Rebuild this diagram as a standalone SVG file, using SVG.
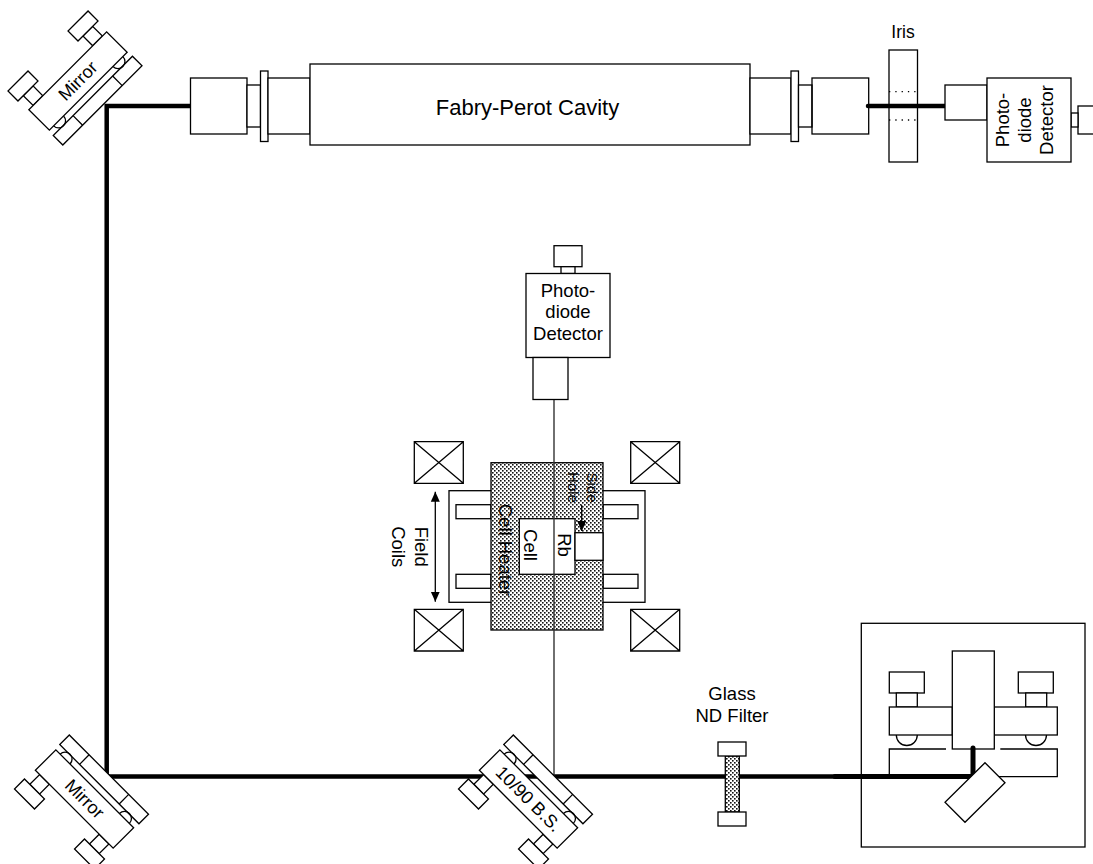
<svg xmlns="http://www.w3.org/2000/svg" width="1093" height="864" viewBox="0 0 1093 864">
<style>
.s{fill:#fff;stroke:#000;stroke-width:1.3}
.n{fill:none;stroke:#000;stroke-width:1.3}
.st{fill:url(#stipple);stroke:#000;stroke-width:1.3}
.beam{fill:none;stroke:#000;stroke-width:4.5;stroke-linecap:round;stroke-linejoin:miter}
.thin{fill:none;stroke:#333;stroke-width:1.4}
.arr{fill:none;stroke:#000;stroke-width:1.3}
.m{font-size:18px}
text{font-family:"Liberation Sans",Arial,sans-serif;font-size:18.5px;fill:#000;text-anchor:middle}
</style>
<defs>
<pattern id="stipple" width="4" height="4" patternUnits="userSpaceOnUse">
<rect width="4" height="4" fill="#fff"/>
<rect x="0" y="0" width="1.6" height="1.6" fill="#111"/>
<rect x="2" y="2" width="1.6" height="1.6" fill="#111"/>
</pattern>
<marker id="ah" markerUnits="userSpaceOnUse" markerWidth="10" markerHeight="10" refX="10" refY="5" orient="auto-start-reverse">
<path d="M0,0.5 L10,5 L0,9.5 Z" fill="#000"/>
</marker>
<g id="mount">
<rect class="s" x="-56" y="21" width="112" height="13.5"/>
<path class="n" d="M-28,21V34.5M28,21V34.5"/>
<path class="n" d="M-49,14.5A7,7 0 0 0 -35,14.5M35,14.5A7,7 0 0 0 49,14.5"/>
<rect class="s" x="-49" y="-28.3" width="13.7" height="13.8"/>
<rect class="s" x="35.3" y="-28.3" width="13.7" height="13.8"/>
<rect class="s" x="-56.6" y="-42.4" width="28.3" height="14.1"/>
<rect class="s" x="28.3" y="-42.4" width="28.3" height="14.1"/>
<rect class="s" x="-55" y="-14.5" width="110" height="29"/>
</g>
</defs>

<g id="laser">
<rect class="n" x="861.3" y="623.3" width="223.7" height="223.7"/>
<path class="n" d="M946,749H889.3V776.7H1057.3V749H1000.3"/>
<rect class="s" x="889.3" y="672" width="35" height="21"/>
<rect class="s" x="896.3" y="693" width="21" height="14"/>
<rect class="s" x="1018.3" y="672" width="35" height="21"/>
<rect class="s" x="1025.7" y="693" width="21" height="14"/>
<path class="n" d="M896.3,735A10.5,10.5 0 0 0 917.3,735M1025.5,735A10.5,10.5 0 0 0 1046.5,735"/>
<rect class="s" x="889.3" y="707" width="63" height="28"/>
<rect class="s" x="994.3" y="707" width="63" height="28"/>
<rect class="s" x="952.3" y="651" width="42" height="98"/>
</g>

<g id="iris">
<rect class="s" x="889" y="50" width="28.5" height="112"/>
<path class="n" d="M889,91.7H917.5M889,120H917.5" stroke-dasharray="1.3 5"/>
<text x="903" y="38" style="font-size:17.5px">Iris</text>
</g>

<g id="cell">
<path class="s" d="M414.3,441.7H463.3V483.3H414.3ZM414.3,441.7L463.3,483.3M463.3,441.7L414.3,483.3"/>
<path class="s" d="M630.7,441.7H679.7V483.3H630.7ZM630.7,441.7L679.7,483.3M679.7,441.7L630.7,483.3"/>
<path class="s" d="M414.3,609.3H463.3V651H414.3ZM414.3,609.3L463.3,651M463.3,609.3L414.3,651"/>
<path class="s" d="M630.7,609.3H679.7V651H630.7ZM630.7,609.3L679.7,651M679.7,609.3L630.7,651"/>
<rect class="s" x="449" y="490.7" width="196" height="111.6"/>
<rect class="s" x="456" y="504.7" width="35" height="14"/>
<rect class="s" x="456" y="574.3" width="35" height="14"/>
<rect class="s" x="603" y="504.7" width="35" height="14"/>
<rect class="s" x="603" y="574.3" width="35" height="14"/>
<rect class="st" x="491" y="462.7" width="112" height="167.3"/>
<rect class="s" x="519.3" y="518.7" width="55.7" height="55.6"/>
<rect class="s" x="575" y="532.7" width="28" height="27.6"/>
<text transform="translate(499,550) rotate(90)">Cell Heater</text>
<text transform="translate(523.5,545) rotate(90)">Cell</text>
<text transform="translate(558,545) rotate(90)">Rb</text>
<text transform="translate(586.7,487.5) rotate(90)" style="font-size:15px">Side</text>
<text transform="translate(567.7,487.5) rotate(90)" style="font-size:15px">Hole</text>
<text transform="translate(414.7,546.7) rotate(90)">Field</text>
<text transform="translate(392,546.7) rotate(90)">Coils</text>
<path class="arr" d="M435.3,491.7V601.7" marker-start="url(#ah)" marker-end="url(#ah)"/>
<path class="arr" d="M581.7,505V531" marker-end="url(#ah)"/>
</g>

<g id="connectors">
<path class="beam" d="M190,106H106.7V776.5H553"/>
<path class="beam" d="M553,776.5H835"/>
<path class="beam" d="M835,776.5H973V748" style="stroke-width:5"/>
<path class="beam" d="M868,106H946"/>
<path class="thin" d="M554,399.5V776"/>
</g>

<g id="cavity">
<rect class="s" x="190.5" y="78" width="56.5" height="56"/>
<rect class="s" x="247" y="85" width="13.5" height="42"/>
<rect class="s" x="260.5" y="71" width="7.5" height="70.5"/>
<rect class="s" x="268" y="78" width="42" height="56"/>
<rect class="s" x="310" y="64" width="440" height="81"/>
<rect class="s" x="750" y="78" width="41" height="56"/>
<rect class="s" x="791" y="71" width="7.5" height="70.5"/>
<rect class="s" x="798.5" y="85" width="13.5" height="42"/>
<rect class="n" x="812" y="78" width="56.7" height="56"/>
<text x="527.5" y="115" style="font-size:22px">Fabry-Perot Cavity</text>
</g>

<g id="detector-top">
<rect class="s" x="1078" y="106" width="28" height="28"/>
<rect class="s" x="1071" y="113" width="7" height="14"/>
<rect class="s" x="945" y="85" width="42" height="35"/>
<rect class="s" x="987" y="78" width="84" height="84"/>
<text transform="translate(1009,120) rotate(-90)">Photo-</text>
<text transform="translate(1031,120) rotate(-90)">diode</text>
<text transform="translate(1053,120) rotate(-90)">Detector</text>
</g>

<g id="detector-cell">
<rect class="s" x="554" y="245.7" width="28" height="21"/>
<rect class="s" x="561" y="266.7" width="14" height="6.8"/>
<rect class="s" x="526" y="273.5" width="84" height="84"/>
<rect class="s" x="533" y="357.5" width="35" height="42"/>
<text x="568" y="296.7">Photo-</text>
<text x="568" y="318.4">diode</text>
<text x="568" y="340">Detector</text>
</g>

<g id="nd-filter">
<rect class="st" x="725.3" y="756" width="14" height="56"/>
<rect class="s" x="718" y="742" width="28" height="14"/>
<rect class="s" x="718" y="812" width="28" height="14"/>
<text x="732" y="700">Glass</text>
<text x="732" y="722">ND Filter</text>
</g>

<g id="mirror-top">
<use href="#mount" transform="translate(78,81) rotate(-45)"/>
<text class="m" transform="translate(78,81) rotate(-45)" y="6">Mirror</text>
</g>

<g id="mirror-bottom">
<use href="#mount" transform="translate(84.5,799) rotate(45) scale(1,-1)"/>
<text class="m" transform="translate(84.5,799) rotate(45)" y="6">Mirror</text>
</g>

<g id="beam-splitter">
<use href="#mount" transform="translate(528.5,799) rotate(45) scale(1,-1)"/>
<text class="m" transform="translate(528.5,799) rotate(45)" y="6">10/90 B.S.</text>
</g>

<g id="laser-diode">
<polygon class="s" points="985,762.7 1005,782.7 965,822.3 945,802.3"/>
</g>
</svg>
